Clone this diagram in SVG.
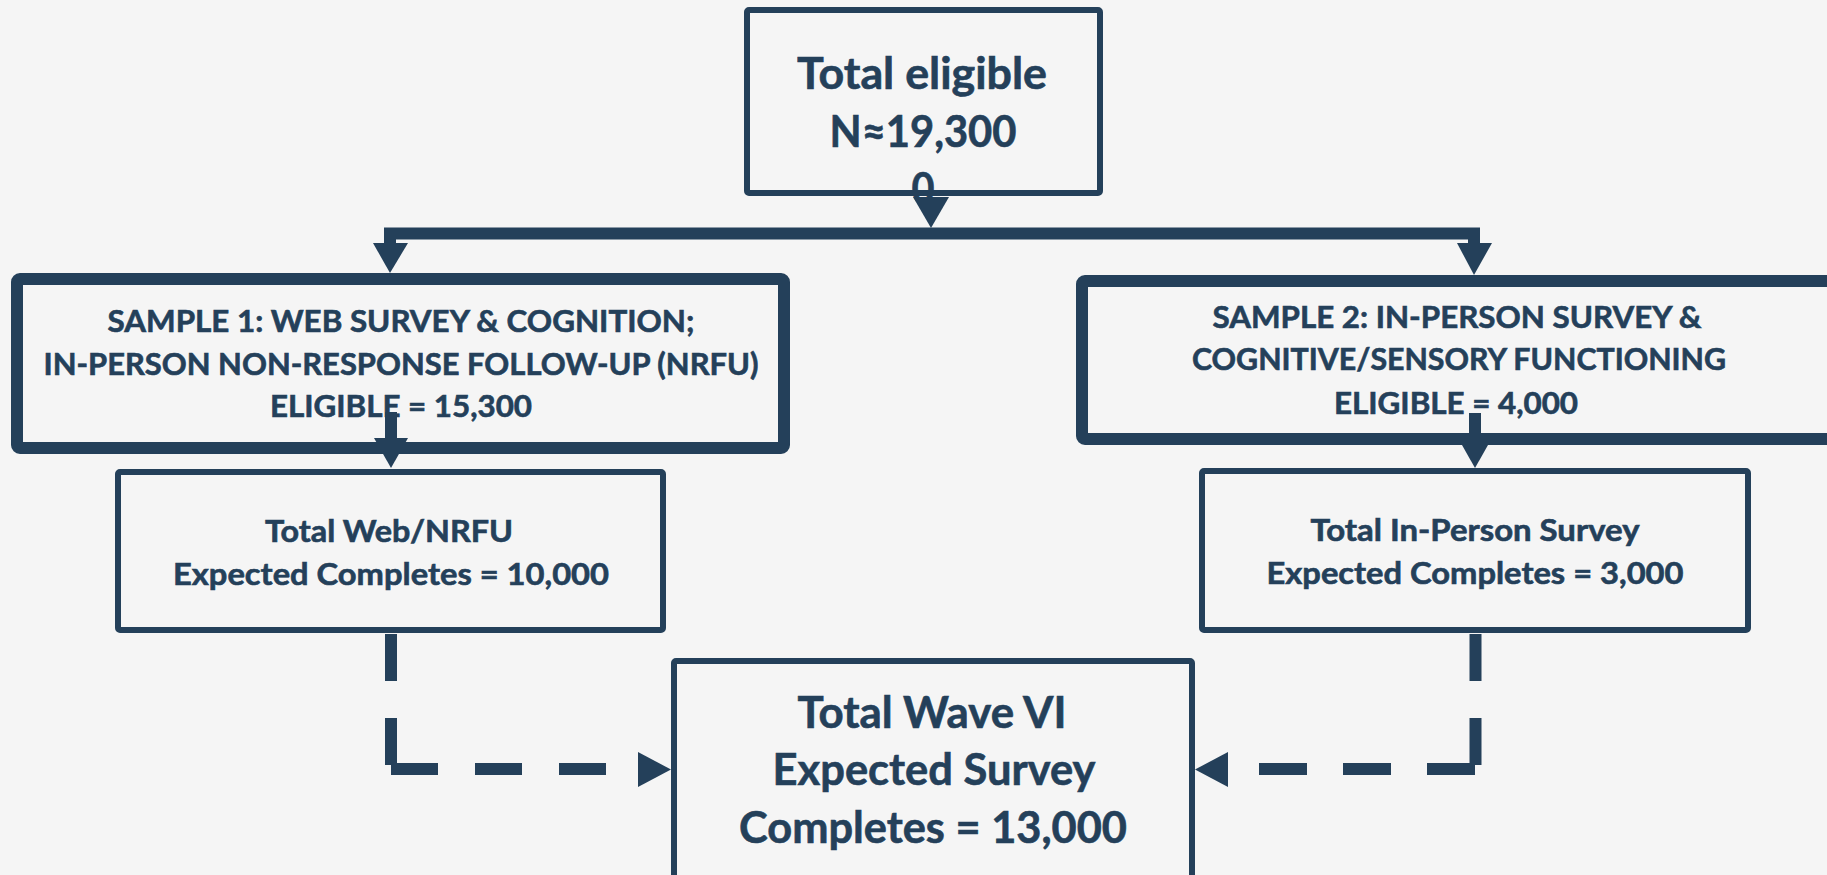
<svg xmlns="http://www.w3.org/2000/svg" width="1827" height="875" viewBox="0 0 1827 875">
  <style>
    .box { fill: #f5f5f5; stroke: #24405a; stroke-linejoin: round; }
    .thick { stroke-width: 12; }
    .thin { stroke-width: 6; }
    .t { font-family: Lato, "Open Sans", "Liberation Sans", sans-serif; font-weight: 700; fill: #24405a; stroke: #24405a; stroke-width: 0.6; text-anchor: middle; }
    .big { font-size: 43px; }
    .small { font-size: 30px; }
    .conn { fill: none; stroke: #24405a; stroke-width: 12; stroke-linejoin: miter; }
    .dash { fill: none; stroke: #24405a; stroke-width: 12; stroke-dasharray: 47 37; }
    .head { fill: #24405a; }
  </style>
  <rect width="1827" height="875" fill="#f5f5f5"/>

  <g id="node-total-eligible">
    <rect class="box thin" x="747" y="10" width="353" height="183" rx="2"/>
    <text class="t big" x="922" y="89" textLength="250" lengthAdjust="spacingAndGlyphs">Total eligible</text>
    <text class="t big" x="923" y="147" textLength="187" lengthAdjust="spacingAndGlyphs">N≈19,300</text>
    <text class="t big" x="923" y="204" textLength="23" lengthAdjust="spacingAndGlyphs">0</text>
  </g>

  <g id="node-sample1">
    <rect class="box thick" x="17" y="279" width="767" height="169" rx="3"/>
    <text class="t small" x="401" y="332" textLength="587" lengthAdjust="spacingAndGlyphs">SAMPLE 1: WEB SURVEY &amp; COGNITION;</text>
    <text class="t small" x="401" y="375" textLength="715" lengthAdjust="spacingAndGlyphs">IN-PERSON NON-RESPONSE FOLLOW-UP (NRFU)</text>
    <text class="t small" x="401" y="417" textLength="262" lengthAdjust="spacingAndGlyphs">ELIGIBLE = 15,300</text>
  </g>

  <g id="node-sample2">
    <rect class="box thick" x="1082" y="281" width="760" height="158" rx="3"/>
    <text class="t small" x="1457" y="328" textLength="489" lengthAdjust="spacingAndGlyphs">SAMPLE 2: IN-PERSON SURVEY &amp;</text>
    <text class="t small" x="1459" y="370" textLength="534" lengthAdjust="spacingAndGlyphs">COGNITIVE/SENSORY FUNCTIONING</text>
    <text class="t small" x="1456" y="414" textLength="244" lengthAdjust="spacingAndGlyphs">ELIGIBLE = 4,000</text>
  </g>

  <g id="node-web">
    <rect class="box thin" x="118" y="472" width="545" height="158" rx="2"/>
    <text class="t small" x="389" y="542" textLength="248" lengthAdjust="spacingAndGlyphs">Total Web/NRFU</text>
    <text class="t small" x="391" y="585" textLength="436" lengthAdjust="spacingAndGlyphs">Expected Completes = 10,000</text>
  </g>

  <g id="node-inperson">
    <rect class="box thin" x="1202" y="471" width="546" height="159" rx="2"/>
    <text class="t small" x="1475" y="541" textLength="329" lengthAdjust="spacingAndGlyphs">Total In-Person Survey</text>
    <text class="t small" x="1475" y="584" textLength="417" lengthAdjust="spacingAndGlyphs">Expected Completes = 3,000</text>
  </g>

  <g id="node-wave6">
    <rect class="box thin" x="674" y="661" width="518" height="240" rx="2"/>
    <text class="t big" x="932" y="728" textLength="269" lengthAdjust="spacingAndGlyphs">Total Wave VI</text>
    <text class="t big" x="934" y="785" textLength="323" lengthAdjust="spacingAndGlyphs">Expected Survey</text>
    <text class="t big" x="933" y="843" textLength="388" lengthAdjust="spacingAndGlyphs">Completes = 13,000</text>
  </g>

  <g id="connectors">
    <polygon class="head" points="913,197 949,197 931,228"/>
    <path class="conn" d="M390,244 V233.5 H1474 V244"/>
    <polygon class="head" points="373,243 408,243 390,273"/>
    <polygon class="head" points="1457,243 1492,243 1474,275"/>

    <line class="conn" x1="391" y1="412" x2="391" y2="439"/>
    <polygon class="head" points="374,438 408,438 391,468"/>
    <line class="conn" x1="1475" y1="413" x2="1475" y2="439"/>
    <polygon class="head" points="1458,438 1492,438 1475,468"/>

    <line class="dash" x1="391" y1="634" x2="391" y2="769"/>
    <line class="dash" x1="391" y1="769" x2="638" y2="769"/>
    <polygon class="head" points="638,752 638,787 671,769.5"/>

    <line class="dash" x1="1475.5" y1="634" x2="1475.5" y2="769"/>
    <line class="dash" style="stroke-dasharray:48 36" x1="1475" y1="769" x2="1228" y2="769"/>
    <polygon class="head" points="1228,752 1228,787 1195,769.5"/>
  </g>
</svg>
